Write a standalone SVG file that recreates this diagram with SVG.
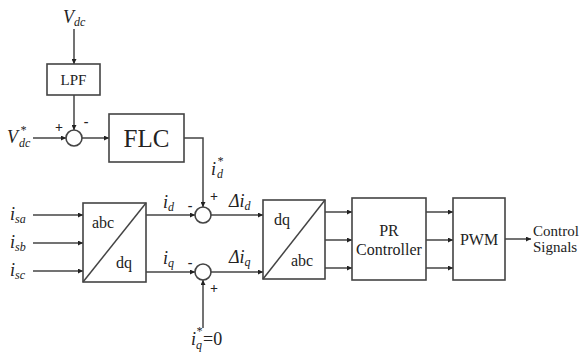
<svg xmlns="http://www.w3.org/2000/svg" width="582" height="353" viewBox="0 0 582 353" font-family="'Liberation Serif', 'DejaVu Serif', serif">
<defs>
<style>
.box{fill:#fff;stroke:#444;stroke-width:1.6}
.sum{fill:#fff;stroke:#444;stroke-width:1.6}
.ln{fill:none;stroke:#444;stroke-width:1.5}
.t{font-family:'Liberation Serif','DejaVu Serif',serif;fill:#222}
.lbl{font-size:16px}
.it{font-family:'Liberation Serif','DejaVu Serif',serif;font-style:italic;fill:#222;font-size:18px}
.sub{font-size:12px}
.pm{font-family:'Liberation Serif','DejaVu Serif',serif;fill:#222;font-size:14px;font-weight:bold;text-anchor:middle}
</style>
<marker id="ar" viewBox="0 0 6 6" refX="6" refY="3" markerWidth="5" markerHeight="5" markerUnits="userSpaceOnUse" orient="auto">
<path d="M0,0 L6,3 L0,6 z" fill="#222"/>
</marker>
</defs>
<rect width="582" height="353" fill="#fff"/>

<g id="connectors">
<path class="ln" d="M74,29 V64" marker-end="url(#ar)"/>
<path class="ln" d="M74,95 V130" marker-end="url(#ar)"/>
<path class="ln" d="M33,138 H66" marker-end="url(#ar)"/>
<path class="ln" d="M82,138 H109" marker-end="url(#ar)"/>
<path class="ln" d="M184,138 H203 V207" marker-end="url(#ar)"/>
<path class="ln" d="M33,215 H83" marker-end="url(#ar)"/>
<path class="ln" d="M33,243 H83" marker-end="url(#ar)"/>
<path class="ln" d="M33,271 H83" marker-end="url(#ar)"/>
<path class="ln" d="M146,215 H195" marker-end="url(#ar)"/>
<path class="ln" d="M146,272 H195" marker-end="url(#ar)"/>
<path class="ln" d="M211,215 H263" marker-end="url(#ar)"/>
<path class="ln" d="M211,272 H263" marker-end="url(#ar)"/>
<path class="ln" d="M203,328 V280" marker-end="url(#ar)"/>
<path class="ln" d="M325,212 H352" marker-end="url(#ar)"/>
<path class="ln" d="M325,240 H352" marker-end="url(#ar)"/>
<path class="ln" d="M325,268 H352" marker-end="url(#ar)"/>
<path class="ln" d="M426,212 H453" marker-end="url(#ar)"/>
<path class="ln" d="M426,240 H453" marker-end="url(#ar)"/>
<path class="ln" d="M426,268 H453" marker-end="url(#ar)"/>
<path class="ln" d="M505,239 H531" marker-end="url(#ar)"/>
</g>

<g id="vdc-label">
<text class="it" x="63" y="23">V<tspan class="sub" dy="3">dc</tspan></text>
</g>

<g id="lpf">
<rect class="box" x="47" y="64" width="53" height="31"/>
<text class="t" x="73.5" y="85" font-size="15" text-anchor="middle">LPF</text>
</g>

<g id="sum-vdc">
<circle class="sum" cx="74" cy="138" r="8"/>
<text class="pm" x="59" y="132">+</text>
<text class="pm" x="86" y="126">-</text>
</g>

<g id="vdc-ref-label">
<text class="it" x="7" y="143">V</text>
<text class="it sub" x="20" y="134">*</text>
<text class="it sub" x="19" y="147">dc</text>
</g>

<g id="flc">
<rect class="box" x="109" y="114" width="75" height="48"/>
<text class="t" x="146.5" y="147" font-size="25" text-anchor="middle">FLC</text>
</g>

<g id="id-ref-label">
<text class="it" x="211" y="175">i</text>
<text class="it sub" x="217" y="165">*</text>
<text class="it sub" x="217" y="178">d</text>
</g>

<g id="inputs">
<text class="it" x="10" y="220">i<tspan class="sub" dy="3">sa</tspan></text>
<text class="it" x="10" y="248">i<tspan class="sub" dy="3">sb</tspan></text>
<text class="it" x="10" y="276">i<tspan class="sub" dy="3">sc</tspan></text>
</g>

<g id="abc-dq">
<rect class="box" x="83" y="203" width="63" height="79"/>
<path class="ln" d="M83,282 L146,203"/>
<text class="t lbl" x="92" y="228">abc</text>
<text class="t lbl" x="116" y="268">dq</text>
</g>

<g id="id-label">
<text class="it" x="163" y="208">i<tspan class="sub" dy="3">d</tspan></text>
</g>
<g id="iq-label">
<text class="it" x="163" y="264">i<tspan class="sub" dy="3">q</tspan></text>
</g>

<g id="sum-d">
<circle class="sum" cx="203" cy="215" r="8"/>
<text class="pm" x="190" y="210">-</text>
<text class="pm" x="214" y="201">+</text>
</g>

<g id="sum-q">
<circle class="sum" cx="203" cy="272" r="8"/>
<text class="pm" x="190" y="267">-</text>
<text class="pm" x="214" y="293">+</text>
</g>

<g id="did-label">
<text class="it" x="229" y="207">Δi<tspan class="sub" dy="3">d</tspan></text>
</g>
<g id="diq-label">
<text class="it" x="229" y="263">Δi<tspan class="sub" dy="3">q</tspan></text>
</g>

<g id="iq-ref-label">
<text class="it" x="191" y="345">i</text>
<text class="it sub" x="196" y="335">*</text>
<text class="it sub" x="196" y="349">q</text>
<text class="t" x="203" y="345" font-size="18">=0</text>
</g>

<g id="dq-abc">
<rect class="box" x="263" y="200" width="62" height="79"/>
<path class="ln" d="M263,279 L325,200"/>
<text class="t lbl" x="274" y="225">dq</text>
<text class="t lbl" x="291" y="266">abc</text>
</g>

<g id="pr">
<rect class="box" x="352" y="198" width="74" height="82"/>
<text class="t lbl" x="389" y="236" text-anchor="middle">PR</text>
<text class="t lbl" x="389" y="255" text-anchor="middle">Controller</text>
</g>

<g id="pwm">
<rect class="box" x="453" y="198" width="52" height="82"/>
<text class="t lbl" x="479" y="245" text-anchor="middle">PWM</text>
</g>

<g id="output-label">
<text class="t" x="533" y="236" font-size="15">Control</text>
<text class="t" x="533" y="252" font-size="15">Signals</text>
</g>
</svg>
